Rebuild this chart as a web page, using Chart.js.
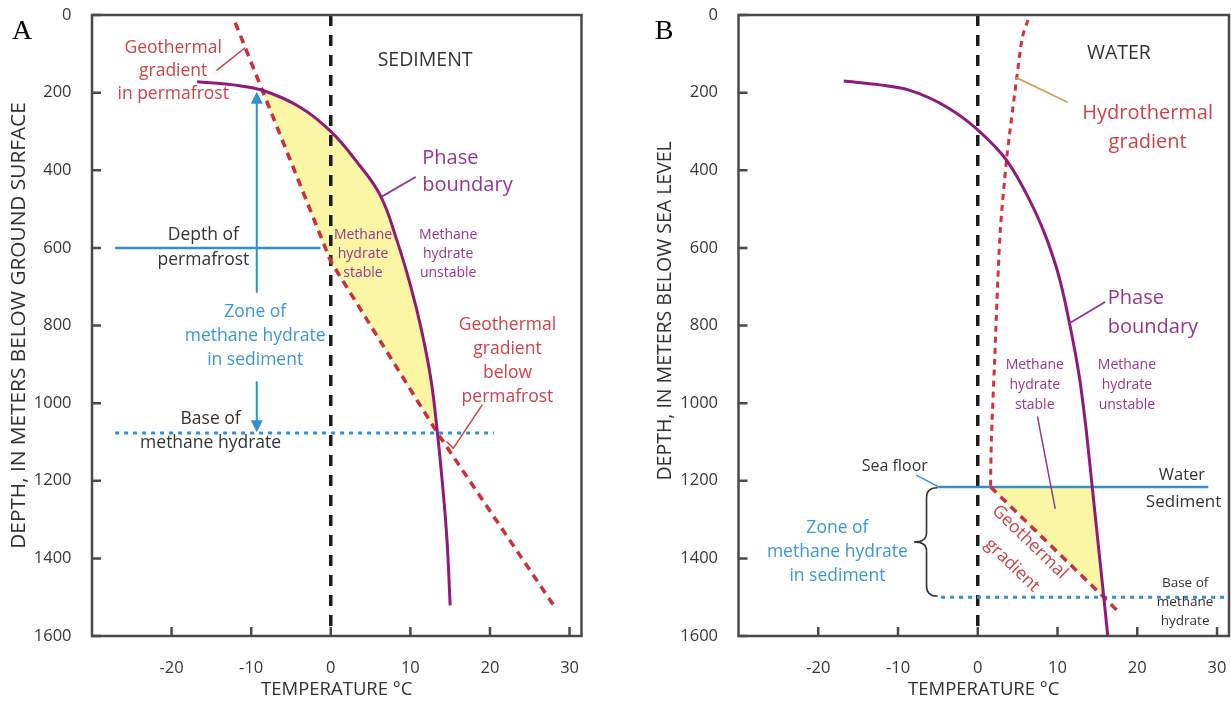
<!DOCTYPE html>
<html>
<head>
<meta charset="utf-8">
<title>Methane hydrate stability: permafrost and ocean sediment</title>
<script src="https://cdn.jsdelivr.net/npm/chart.js@4.4.1/dist/chart.umd.min.js"></script>
<style>
  html, body { margin: 0; padding: 0; background: #ffffff; }
  #wrap { position: relative; width: 1231px; height: 702px; overflow: hidden; background: #ffffff; }
  canvas { position: absolute; top: 0; }
  #chartA { left: 0; }
  #chartB { left: 615px; }
</style>
</head>
<body>
<div id="wrap">
  <canvas id="chartA" width="615" height="702"></canvas>
  <canvas id="chartB" width="616" height="702"></canvas>
</div>
<script>
// ---------- shared axes ----------
const depthTicks = [0, 200, 400, 600, 800, 1000, 1200, 1400, 1600];
const tempTicks = [-20, -10, 0, 10, 20, 30];
const tempRange = [-30, 31.5];
const depthRange = [0, 1600];
const zeroLineTemp = [0, 0];
const zeroLineDepth = [0, 1600];

// ---------- panel A: permafrost (temperature °C, depth m) ----------
const aPhaseTemp  = [-16.8, -12.3, -8.6, -3.9, 0, 3.1, 6.2, 8.3, 10.0, 11.4, 12.6, 13.4, 14.0, 14.6, 15.0];
const aPhaseDepth = [172, 180, 194, 237, 300, 374, 464, 580, 696, 812, 941, 1077, 1201, 1353, 1521];
const aGeoTemp  = [-12, -8.6, 0, 13.4, 28];
const aGeoDepth = [20, 194, 635, 1077, 1521];
const aPermafrostDepth = 600;
const aPermafrostTemp = [-27.1, -1.3];
const aHydrateBaseDepth = 1077;
const aHydrateBaseTemp = [-27.1, 20.5];
const aStableTop = 194;

// ---------- panel B: ocean (temperature °C, depth m) ----------
const bPhaseTemp  = [-16.8, -12.3, -8.7, -3.9, 0, 3.6, 6.5, 8.7, 10.3, 11.5, 12.8, 13.6, 14.35, 15.05, 15.8, 16.3];
const bPhaseDepth = [170, 180, 193, 237, 296, 374, 477, 580, 683, 794, 941, 1070, 1216, 1353, 1500, 1600];
const bHydroTemp  = [6.3, 5.6, 4.9, 4.0, 3.6, 2.8, 2.1, 1.7, 1.6];
const bHydroDepth = [13, 57, 160, 305, 374, 563, 897, 1100, 1216];
const bGeoTemp  = [1.6, 15.8, 17.8];
const bGeoDepth = [1216, 1500, 1541];
const bSeaFloorDepth = 1216;
const bSeaFloorTemp = [-4.9, 28.9];
const bHydrateBaseDepth = 1500;
const bHydrateBaseTemp = [-4.6, 31.5];

// ---------- style ----------
const FONT = "'Open Sans', 'Noto Sans', 'DejaVu Sans', sans-serif";
const C = {
  frame: '#4a4a4a', tick: '#363636', title: '#303030',
  phase: '#8e1b7c', red: '#c9303a', hydro: '#d3323a',
  blue: '#3390d0', fill: '#fbf6a3', zero: '#1c1c1c',
  redText: '#cc4247', purpleText: '#94368f', blueText: '#3a97d6', dark: '#333333', tan: '#d4a25a'
};

const pts = (ts, ds) => ts.map((t, i) => ({ x: t, y: ds[i] }));
const hline = (ts, d) => ts.map(t => ({ x: t, y: d }));

// closed outline: along one curve between two depths, then back up the other
function region(curveT, curveD, boundT, boundD, dTop, dBot) {
  const inside = p => p.y >= dTop - 1e-6 && p.y <= dBot + 1e-6;
  const a = pts(curveT, curveD).filter(inside);
  const b = pts(boundT, boundD).filter(inside).reverse();
  return a.concat(b);
}

function lineSet(data, color, width, dash, order, tension) {
  return {
    data, borderColor: color, borderWidth: width, borderDash: dash || [],
    pointRadius: 0, fill: false, tension: tension || 0, order,
    borderCapStyle: 'butt'
  };
}

// smooth curve that stays monotone in temperature
function curveSet(data, color, width, order) {
  return Object.assign(lineSet(data, color, width, [], order, 0.4), { cubicInterpolationMode: 'monotone' });
}

// ---------- annotation drawing (positions in temperature / depth) ----------
function notesPlugin(notes, panelLabel, labelX) {
  return {
    id: 'notes',
    afterDatasetsDraw(chart) {
      const { ctx, scales: { x, y } } = chart;
      const px = t => x.getPixelForValue(t);
      const py = d => y.getPixelForValue(d);
      ctx.save();
      ctx.lineCap = 'round';
      for (const n of notes) {
        if (n.kind === 'text') {
          ctx.save();
          ctx.font = `${n.size}px ${FONT}`;
          ctx.fillStyle = n.color;
          ctx.textAlign = n.align || 'center';
          ctx.textBaseline = 'middle';
          ctx.translate(px(n.t), py(n.d));
          if (n.rot) ctx.rotate(n.rot * Math.PI / 180);
          const lh = n.lh || n.size * 1.3;
          const off = -(n.lines.length - 1) * lh / 2;
          n.lines.forEach((s, i) => ctx.fillText(s, 0, off + i * lh));
          ctx.restore();
        } else if (n.kind === 'line') {
          ctx.strokeStyle = n.color; ctx.lineWidth = n.width || 1.5;
          ctx.beginPath();
          ctx.moveTo(px(n.t1), py(n.d1));
          ctx.lineTo(px(n.t2), py(n.d2));
          ctx.stroke();
        } else if (n.kind === 'arrow') {
          const X = px(n.t), y1 = py(n.d1), y2 = py(n.d2);
          const dir = y2 > y1 ? 1 : -1;
          ctx.strokeStyle = n.color; ctx.fillStyle = n.color; ctx.lineWidth = 2;
          ctx.beginPath(); ctx.moveTo(X, y1); ctx.lineTo(X, y2 - dir * 10); ctx.stroke();
          ctx.beginPath();
          ctx.moveTo(X, y2);
          ctx.lineTo(X - 6, y2 - dir * 12);
          ctx.lineTo(X + 6, y2 - dir * 12);
          ctx.closePath(); ctx.fill();
        } else if (n.kind === 'brace') {
          const xt = px(n.tTip), xb = px(n.tBody), xm = (xt + xb) / 2 + 1;
          const y1 = py(n.d1), y2 = py(n.d2), ym = (y1 + y2) / 2;
          ctx.strokeStyle = n.color; ctx.lineWidth = 1.6;
          ctx.beginPath();
          ctx.moveTo(xb, y1);
          ctx.quadraticCurveTo(xm, y1, xm, y1 + 10);
          ctx.lineTo(xm, ym - 9);
          ctx.quadraticCurveTo(xm, ym, xt, ym);
          ctx.quadraticCurveTo(xm, ym, xm, ym + 9);
          ctx.lineTo(xm, y2 - 10);
          ctx.quadraticCurveTo(xm, y2, xb, y2);
          ctx.stroke();
        }
      }
      ctx.restore();
    },
    afterDraw(chart) {
      const { ctx, chartArea: a, scales: { x, y } } = chart;
      ctx.save();
      ctx.strokeStyle = C.frame;
      ctx.lineWidth = 2.5;
      ctx.strokeRect(a.left, a.top, a.right - a.left, a.bottom - a.top);
      ctx.beginPath();
      for (const t of x.ticks) {
        const X = x.getPixelForValue(t.value);
        ctx.moveTo(X, a.bottom); ctx.lineTo(X, a.bottom - 9);
      }
      for (const t of y.ticks) {
        const Y = y.getPixelForValue(t.value);
        ctx.moveTo(a.left, Y); ctx.lineTo(a.left + 9, Y);
      }
      ctx.stroke();
      ctx.fillStyle = '#000';
      ctx.font = "28px 'Liberation Serif', 'DejaVu Serif', serif";
      ctx.textAlign = 'center'; ctx.textBaseline = 'middle';
      ctx.fillText(panelLabel, labelX, 32);
      ctx.restore();
    }
  };
}

function makeScales(yTitle, yTitleSize, yTitlePad, yWidth) {
  return {
    x: {
      type: 'linear', min: tempRange[0], max: tempRange[1],
      afterBuildTicks: s => { s.ticks = tempTicks.map(v => ({ value: v })); },
      afterFit: s => { s.height = 66; s.paddingLeft = 0; s.paddingRight = 0; },
      grid: { display: false }, border: { display: false },
      ticks: { autoSkip: false, maxRotation: 0, padding: 14, color: C.tick,
               font: { family: FONT, size: 16.5 }, callback: v => String(v) },
      title: { display: true, text: 'TEMPERATURE °C', color: C.title,
               font: { family: FONT, size: 18.5 }, padding: { top: 0, bottom: 1 } }
    },
    y: {
      type: 'linear', reverse: true, min: depthRange[0], max: depthRange[1],
      afterBuildTicks: s => { s.ticks = depthTicks.map(v => ({ value: v })); },
      afterFit: s => { s.width = yWidth; s.paddingTop = 0; s.paddingBottom = 0; },
      grid: { display: false }, border: { display: false },
      ticks: { autoSkip: false, padding: 12.5, color: C.tick,
               font: { family: FONT, size: 16.5 }, callback: v => String(v) },
      title: { display: true, text: yTitle, color: C.title,
               font: { family: FONT, size: yTitleSize }, padding: { top: yTitlePad, bottom: 0 } }
    }
  };
}

const baseOptions = {
  responsive: false, animation: false, devicePixelRatio: 1,
  plugins: { legend: { display: false }, tooltip: { enabled: false } },
  elements: { point: { radius: 0 } }
};

// ---------- panel A ----------
const notesA = [
  { kind: 'text', lines: ['Geothermal', 'gradient', 'in permafrost'], t: -19.8, d: 144, size: 17.5, color: C.redText, lh: 23 },
  { kind: 'line', t1: -14.3, d1: 142, t2: -10.8, d2: 85, color: C.redText },
  { kind: 'text', lines: ['SEDIMENT'], t: 11.85, d: 116, size: 19.5, color: C.dark },
  { kind: 'text', lines: ['Phase', 'boundary'], t: 11.5, d: 403, size: 20, color: C.purpleText, lh: 27, align: 'left' },
  { kind: 'line', t1: 6.4, d1: 468, t2: 10.6, d2: 418, color: C.purpleText, width: 1.8 },
  { kind: 'text', lines: ['Methane', 'hydrate', 'stable'], t: 4.05, d: 617, size: 14, color: C.purpleText, lh: 19 },
  { kind: 'text', lines: ['Methane', 'hydrate', 'unstable'], t: 14.75, d: 617, size: 14, color: C.purpleText, lh: 19 },
  { kind: 'text', lines: ['Depth of', 'permafrost'], t: -16.0, d: 598, size: 17.5, color: C.dark, lh: 25 },
  { kind: 'text', lines: ['Zone of', 'methane hydrate', 'in sediment'], t: -9.5, d: 827, size: 17.5, color: C.blueText, lh: 24 },
  { kind: 'arrow', t: -9.3, d1: 714, d2: 198, color: C.blue },
  { kind: 'arrow', t: -9.3, d1: 946, d2: 1075, color: C.blue },
  { kind: 'text', lines: ['Base of', 'methane hydrate'], t: -15.1, d: 1072, size: 17.5, color: C.dark, lh: 24 },
  { kind: 'text', lines: ['Geothermal', 'gradient', 'below', 'permafrost'], t: 22.2, d: 892, size: 17.5, color: C.redText, lh: 24 },
  { kind: 'line', t1: 19.0, d1: 1005, t2: 15.4, d2: 1116, color: C.redText },
  { kind: 'line', t1: 15.4, d1: 1116, t2: 14.6, d2: 1100, color: C.redText }
];

new Chart(document.getElementById('chartA'), {
  type: 'line',
  data: {
    datasets: [
      { data: region(aGeoTemp, aGeoDepth, aPhaseTemp, aPhaseDepth, aStableTop, aHydrateBaseDepth),
        borderWidth: 0, borderColor: 'rgba(0,0,0,0)', backgroundColor: C.fill, fill: 'shape', pointRadius: 0, order: 10 },
      lineSet(pts(zeroLineTemp, zeroLineDepth), C.zero, 3.5, [11, 9], 6),
      lineSet(hline(aPermafrostTemp, aPermafrostDepth), C.blue, 2.5, [], 5),
      lineSet(hline(aHydrateBaseTemp, aHydrateBaseDepth), C.blue, 3, [4, 5], 5),
      lineSet(pts(aGeoTemp, aGeoDepth), C.red, 3.5, [8, 6], 3),
      lineSet(pts(aPhaseTemp, aPhaseDepth), C.phase, 3, [], 2, 0.4)
    ]
  },
  options: Object.assign({}, baseOptions, {
    layout: { padding: { left: 0, top: 15, right: 33.5, bottom: 0 } },
    scales: makeScales('DEPTH, IN METERS BELOW GROUND SURFACE', 20.8, 7, 92)
  }),
  plugins: [notesPlugin(notesA, 'A', 22)]
});

// ---------- panel B ----------
const notesB = [
  { kind: 'text', lines: ['WATER'], t: 17.7, d: 98, size: 19.5, color: C.dark },
  { kind: 'text', lines: ['Hydrothermal', 'gradient'], t: 21.3, d: 290, size: 20, color: C.redText, lh: 29 },
  { kind: 'line', t1: 4.9, d1: 162, t2: 11.2, d2: 224, color: C.tan, width: 1.8 },
  { kind: 'text', lines: ['Phase', 'boundary'], t: 16.3, d: 767, size: 20, color: C.purpleText, lh: 29, align: 'left' },
  { kind: 'line', t1: 11.5, d1: 794, t2: 15.9, d2: 740, color: C.purpleText, width: 1.8 },
  { kind: 'text', lines: ['Methane', 'hydrate', 'stable'], t: 7.15, d: 954, size: 14, color: C.purpleText, lh: 20 },
  { kind: 'text', lines: ['Methane', 'hydrate', 'unstable'], t: 18.7, d: 954, size: 14, color: C.purpleText, lh: 20 },
  { kind: 'line', t1: 7.5, d1: 1036, t2: 9.7, d2: 1271, color: C.purpleText },
  { kind: 'text', lines: ['Sea floor'], t: -10.4, d: 1162, size: 16, color: C.dark },
  { kind: 'line', t1: -7.65, d1: 1186, t2: -4.9, d2: 1216, color: C.blue },
  { kind: 'text', lines: ['Water'], t: 25.6, d: 1186, size: 16.5, color: C.dark },
  { kind: 'text', lines: ['Sediment'], t: 25.8, d: 1255, size: 17, color: C.dark },
  { kind: 'brace', tTip: -8.0, tBody: -5.1, d1: 1218, d2: 1497, color: C.dark },
  { kind: 'text', lines: ['Zone of', 'methane hydrate', 'in sediment'], t: -17.6, d: 1384, size: 17.5, color: C.blueText, lh: 24 },
  { kind: 'text', lines: ['Base of', 'methane', 'hydrate'], t: 26.0, d: 1513, size: 13.5, color: C.dark, lh: 19 },
  { kind: 'text', lines: ['Geothermal'], t: 6.5, d: 1358, size: 17.5, color: C.redText, rot: 44 },
  { kind: 'text', lines: ['gradient'], t: 4.3, d: 1418, size: 17.5, color: C.redText, rot: 44 }
];

new Chart(document.getElementById('chartB'), {
  type: 'line',
  data: {
    datasets: [
      { data: region(bGeoTemp, bGeoDepth, bPhaseTemp, bPhaseDepth, bSeaFloorDepth, bHydrateBaseDepth),
        borderWidth: 0, borderColor: 'rgba(0,0,0,0)', backgroundColor: C.fill, fill: 'shape', pointRadius: 0, order: 10 },
      lineSet(pts(zeroLineTemp, zeroLineDepth), C.zero, 3.5, [11, 9], 6),
      lineSet(hline(bSeaFloorTemp, bSeaFloorDepth), C.blue, 2.5, [], 5),
      lineSet(hline(bHydrateBaseTemp, bHydrateBaseDepth), C.blue, 3, [4, 5], 5),
      lineSet(pts(bHydroTemp, bHydroDepth), C.hydro, 3, [6, 5], 3, 0.3),
      lineSet(pts(bGeoTemp, bGeoDepth), C.red, 3.5, [8, 6], 3),
      curveSet(pts(bPhaseTemp, bPhaseDepth), C.phase, 3, 2)
    ]
  },
  options: Object.assign({}, baseOptions, {
    layout: { padding: { left: 0, top: 15, right: 2, bottom: 0 } },
    scales: makeScales('\u2002\u2002\u2002DEPTH, IN METERS BELOW SEA LEVEL', 19.5, 39, 123.5)
  }),
  plugins: [notesPlugin(notesB, 'B', 49)]
});
</script>
</body>
</html>
